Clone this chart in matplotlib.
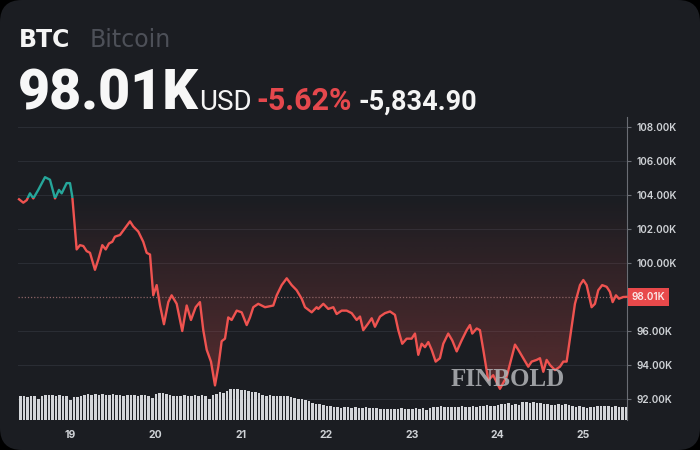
import matplotlib
matplotlib.use('Agg')
import matplotlib.pyplot as plt
import numpy as np
from matplotlib.patches import FancyBboxPatch, Rectangle
from matplotlib.transforms import IdentityTransform, blended_transform_factory
from matplotlib.path import Path

# ---------------- data ----------------
days = [18.404, 18.454, 18.494, 18.532, 18.571, 18.629, 18.708, 18.766, 18.825, 18.871,
        18.903, 18.961, 19.000, 19.027, 19.078, 19.117, 19.156, 19.195, 19.234, 19.292,
        19.331, 19.378, 19.418, 19.456, 19.495, 19.526, 19.585, 19.643, 19.702, 19.740,
        19.799, 19.857, 19.897, 19.936, 19.974, 20.014, 20.053, 20.099, 20.150, 20.189,
        20.248, 20.313, 20.365, 20.415, 20.470, 20.520, 20.559, 20.599, 20.649, 20.696,
        20.735, 20.774, 20.813, 20.851, 20.891, 20.950, 21.008, 21.067, 21.105, 21.144,
        21.202, 21.281, 21.378, 21.418, 21.476, 21.535, 21.593, 21.651, 21.710, 21.749,
        21.827, 21.885, 21.904, 21.963, 22.021, 22.080, 22.119, 22.178, 22.236, 22.295,
        22.353, 22.392, 22.430, 22.489, 22.529, 22.567, 22.626, 22.684, 22.743, 22.801,
        22.840, 22.886, 22.938, 22.996, 23.035, 23.074, 23.113, 23.152, 23.191, 23.230,
        23.277, 23.327, 23.366, 23.424, 23.471, 23.523, 23.581, 23.640, 23.678, 23.705,
        23.757, 23.795, 23.834, 23.892, 23.950, 24.029, 24.107, 24.205, 24.243, 24.302,
        24.360, 24.400, 24.458, 24.497, 24.536, 24.575, 24.614, 24.673, 24.731, 24.770,
        24.809, 24.868, 24.906, 24.965, 25.004, 25.043, 25.101, 25.140, 25.179, 25.225,
        25.277, 25.316, 25.347, 25.386, 25.421, 25.471, 25.511]
price = [103.75, 103.55, 103.70, 104.10, 103.80, 104.30, 105.05, 104.90, 103.80, 104.30,
         104.10, 104.70, 104.70, 103.90, 100.80, 101.05, 101.00, 100.70, 100.60, 99.60,
         100.20, 101.05, 100.80, 101.15, 101.25, 101.55, 101.65, 102.05, 102.45, 102.15,
         101.85, 101.25, 100.60, 100.50, 98.10, 98.70, 97.50, 96.40, 97.70, 98.10,
         97.60, 96.00, 97.50, 96.65, 97.40, 97.70, 96.05, 94.90, 94.20, 92.80,
         93.90, 95.40, 95.55, 96.80, 96.65, 97.20, 97.10, 96.35, 96.80, 97.40,
         97.60, 97.40, 97.50, 98.10, 98.70, 99.10, 98.70, 98.40, 97.90, 97.40,
         97.10, 97.40, 97.30, 97.60, 97.30, 97.40, 97.00, 97.20, 97.20, 97.05,
         96.65, 96.85, 96.05, 96.45, 96.75, 96.25, 96.85, 97.05, 97.15, 96.95,
         96.05, 95.25, 95.55, 95.55, 95.85, 94.60, 95.25, 95.05, 95.35, 94.90,
         94.20, 94.40, 95.25, 95.85, 95.45, 94.80, 95.45, 96.05, 96.35, 95.85,
         96.15, 96.05, 94.90, 93.10, 93.40, 92.60, 93.30, 95.20, 94.90, 94.40,
         93.90, 94.20, 94.30, 94.40, 93.60, 94.30, 94.00, 93.70, 93.90, 94.20,
         94.20, 96.25, 97.60, 98.70, 99.00, 98.70, 97.40, 97.60, 98.40, 98.70,
         98.60, 98.30, 97.70, 98.10, 97.90, 98.00, 98.01]

vol_start = 18.40          # first hourly candle (day of month)
volume = [24, 24, 23, 24, 24, 21, 24, 25, 25, 25, 24, 25, 24, 24, 20, 23, 23, 24,
          25, 26, 25, 26, 25, 26, 25, 25, 26, 25, 25, 24, 25, 25, 25, 24, 25, 25, 24,
          22, 26, 27, 27, 26, 25, 24, 24, 24, 25, 24, 24, 25, 24, 25, 24, 21, 25, 26,
          28, 27, 29, 31, 31, 31, 30, 30, 29, 28, 28, 27, 25, 24, 25, 24, 24, 24, 24,
          24, 23, 22, 21, 21, 20, 19, 17, 16, 16, 15, 14, 14,
          13, 13, 12, 13, 13, 12, 13, 12, 12, 13, 12, 12, 12, 11,
          11, 11, 11, 11, 11, 12, 11, 11, 11, 12, 11, 12, 10, 12,
          13, 13, 14, 13, 13, 13,
          13, 13, 14, 13, 13, 14, 13, 14, 14, 15, 14, 14, 15,
          16, 16, 17, 15, 16, 15,
          18, 18, 17, 18, 17, 17,
          16, 16, 15, 15, 16, 15, 16, 15,
          14, 13, 14, 13, 12, 13, 13, 14, 14, 14,
          14, 13, 14, 13, 13, 13]

day_ticks = [19, 20, 21, 22, 23, 24, 25]
price_ticks = [92, 94, 96, 100, 102, 104, 106, 108]
last_price = 98.01
change_abs = -5834.90
change_pct = -5.62
baseline = last_price - change_abs / 1000.0   # reference (previous) price

# ---------------- style ----------------
BG = '#1b1d22'
RED = '#ef5350'
GREEN = '#26a69a'
TXT = '#cfd2d6'
W, H = 700, 450
plt.rcParams['font.family'] = ['Inter', 'DejaVu Sans']

fig = plt.figure(figsize=(7, 4.5), dpi=100, facecolor='black')
card = FancyBboxPatch((0, 0), W, H, boxstyle='round,pad=0,rounding_size=22',
                      transform=IdentityTransform(), fc=BG, ec='none', zorder=0)
fig.patches.append(card)

pos = [18 / W, 30 / H, 609 / W, 303 / H]
ax = fig.add_axes(pos)
ax.set_facecolor('none')
ax.set_zorder(1)
vax = fig.add_axes(pos, sharex=ax)
vax.set_facecolor('none')
vax.set_zorder(2)
vax.axis('off')

xmin, xmax = 18.392, 25.515
ymin, ymax = 90.765, 108.59
ax.set_xlim(xmin, xmax)
ax.set_ylim(ymin, ymax)

# grid
for t in price_ticks:
    ax.axhline(t, color='#2a2d34', lw=0.8, zorder=0)

# gradient fill between baseline and line (below baseline)
d = np.array(days)
p = np.array(price)
fb = ax.fill_between(d, p, baseline, where=p < baseline, interpolate=True,
                     facecolor='none', edgecolor='none')
clip = Path.make_compound_path(*fb.get_paths())
n = 256
grad = np.zeros((n, 1, 4))
rgb = matplotlib.colors.to_rgb(RED)
grad[..., 0], grad[..., 1], grad[..., 2] = rgb
grad[:, 0, 3] = np.linspace(0.30, 0.0, n)
im = ax.imshow(grad, extent=[xmin, xmax, 92.0, baseline], origin='lower',
               aspect='auto', zorder=1, interpolation='bilinear')
im.set_clip_path(clip, ax.transData)
ax.set_xlim(xmin, xmax)
ax.set_ylim(ymin, ymax)

# last-price dotted line
ax.axhline(last_price, color='#8c6466', lw=0.9, ls=(0, (1, 1.5)), zorder=2)

# volume bars
vx = vol_start + np.arange(len(volume)) / 24.0 + 1 / 48.0
vax.bar(vx, volume, width=1 / 24 * 0.72, color='#d3d5d9', edgecolor='none')
vax.set_ylim(0, 303)
vax.set_xlim(xmin, xmax)

# price line, split colours at baseline
for col, y0, y1 in [(RED, ymin - 5, baseline), (GREEN, baseline, ymax + 5)]:
    ln, = vax.plot(days, price, color=col, lw=1.7, transform=ax.transData,
                   solid_joinstyle='round', zorder=3)
    r = Rectangle((xmin - 1, y0), xmax - xmin + 2, y1 - y0, transform=ax.transData)
    ln.set_clip_path(r)
vax.set_xlim(xmin, xmax)

# axes styling
for s in ['left', 'top', 'bottom']:
    ax.spines[s].set_visible(False)
ax.spines['right'].set_color('#6a6d74')
ax.spines['right'].set_linewidth(0.8)
ax.yaxis.tick_right()
ax.set_yticks(price_ticks)
ax.set_yticklabels([f'{t:.2f}K' for t in price_ticks])
ax.tick_params(axis='y', colors='#6a6d74', labelcolor=TXT, length=3, width=0.8,
               labelsize=7.2, pad=4)
for lab in ax.get_yticklabels():
    lab.set_fontweight('semibold')
ax.set_xticks(day_ticks)
ax.set_xticklabels([str(t) for t in day_ticks])
ax.tick_params(axis='x', length=0, labelcolor=TXT, labelsize=7.5, pad=7)
for lab in ax.get_xticklabels():
    lab.set_fontweight('bold')

# last price label box
trans = blended_transform_factory(ax.transAxes, ax.transData)
ax.text(1.008, last_price, f'{last_price:.2f}K', transform=trans, ha='left', va='center',
        fontsize=7.2, fontweight='semibold', color='#fbe9e9', zorder=5,
        bbox=dict(boxstyle='square,pad=0.4', fc='#e8494b', ec='none'))

# watermark
fig.text(508 / W, 1 - 379 / H, 'FINBOLD', ha='center', va='center', fontsize=18,
         fontweight='bold', family=['Liberation Serif', 'DejaVu Serif'],
         color='#b4b6b9', alpha=0.85, zorder=4)

# header
def ft(x, y, s, **kw):
    return fig.text(x / W, 1 - y / H, s, va='baseline', ha='left', **kw)

ft(19, 47, 'BTC', fontsize=17, fontweight='bold', color='#f4f4f4',
   family=['DejaVu Sans'])
ft(90, 47, 'Bitcoin', fontsize=17, color='#4d5058', family=['DejaVu Sans'])
ft(18, 110, f'{last_price:.2f}K', fontsize=40, fontweight='heavy', color='#f7f7f7',
   family=['Roboto', 'DejaVu Sans'])
ft(199, 110, 'USD', fontsize=20, color='#f4f4f4', family=['Roboto', 'DejaVu Sans'])
ft(256, 110, f'{change_pct:.2f}%', fontsize=22, fontweight='bold', color='#e5484d',
   family=['Roboto', 'DejaVu Sans'])
ft(358, 110, f'-{abs(change_abs):,.2f}', fontsize=19.5, fontweight='bold', color='#f4f4f4',
   family=['Roboto', 'DejaVu Sans'])

fig.savefig('out.png', dpi=100, facecolor='black')
